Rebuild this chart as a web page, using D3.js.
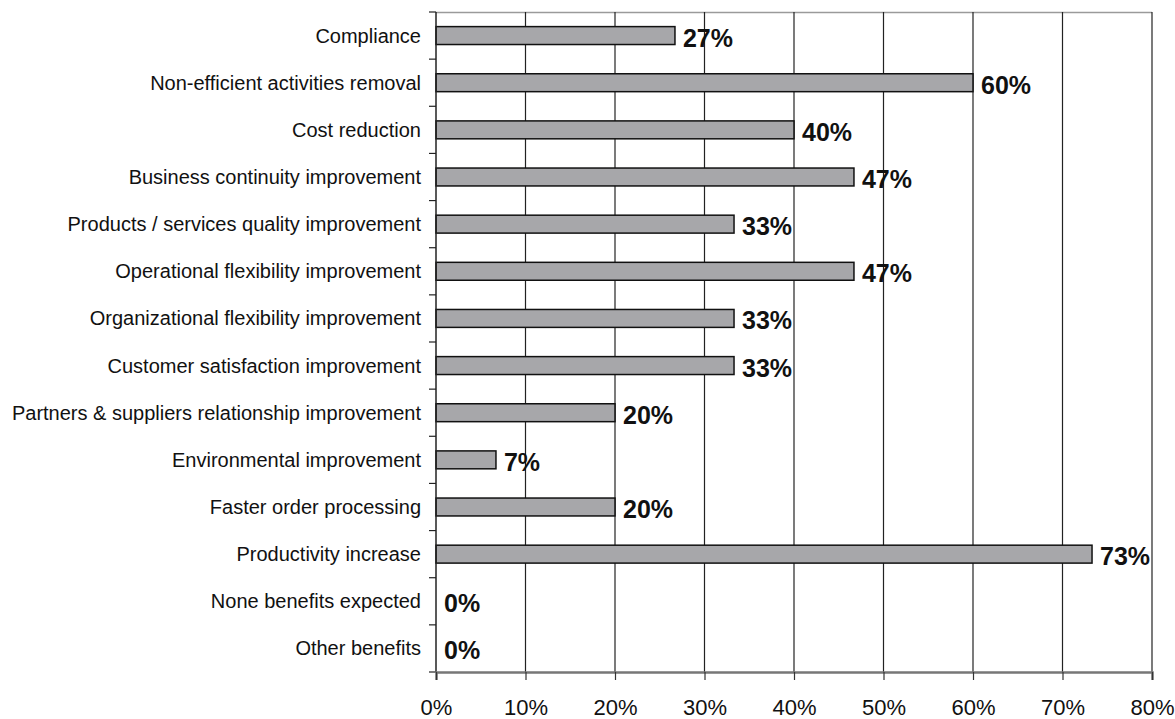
<!DOCTYPE html>
<html>
<head>
<meta charset="utf-8">
<script src="https://cdn.jsdelivr.net/npm/d3@7"></script>
<style>
    html, body { margin: 0; padding: 0; background: #fff; }
    svg { display: block; font-family: Arial, "Liberation Sans", sans-serif; }
</style>
</head>
<body>
<svg id="chart" width="1175" height="719"></svg>
<script>
// Categories, top to bottom
var Categories = [
    "Compliance",
    "Non-efficient activities removal",
    "Cost reduction",
    "Business continuity improvement",
    "Products / services quality improvement",
    "Operational flexibility improvement",
    "Organizational flexibility improvement",
    "Customer satisfaction improvement",
    "Partners & suppliers relationship improvement",
    "Environmental improvement",
    "Faster order processing",
    "Productivity increase",
    "None benefits expected",
    "Other benefits"
];
// Share of respondents (%)
var Values = [26.7, 60, 40, 46.7, 33.3, 46.7, 33.3, 33.3, 20, 6.7, 20, 73.3, 0, 0];
// X axis ticks (%)
var Ticks = [0, 10, 20, 30, 40, 50, 60, 70, 80];

var Margin = { Top: 12, Right: 23, Bottom: 47, Left: 436 };
var Width = 1175, Height = 719;
var SVG = d3.select("#chart");

// Scales
var X = d3.scaleLinear().domain([0, 80]).range([Margin.Left, Width - Margin.Right]);
var Y = d3.scaleBand().domain(Categories).range([Margin.Top, Height - Margin.Bottom]).paddingInner(0.62).paddingOuter(0.31);
var Band = d3.scaleBand().domain(Categories).range([Margin.Top, Height - Margin.Bottom]);

// Top border
SVG.append("line")
    .attr("x1", X(0)).attr("x2", X(80))
    .attr("y1", Margin.Top + 0.5).attr("y2", Margin.Top + 0.5)
    .attr("stroke", "#9a9a9a").attr("stroke-width", 1.5);

// Vertical gridlines
SVG.append("g").selectAll("line")
    .data(Ticks.slice(1))
    .join("line")
        .attr("x1", d => X(d)).attr("x2", d => X(d))
        .attr("y1", Margin.Top).attr("y2", Height - Margin.Bottom)
        .attr("stroke", "#222").attr("stroke-width", 1.2);

// Bars
SVG.append("g").selectAll("rect")
    .data(Categories.map((C, I) => ({ Name: C, Value: Values[I] })).filter(D => D.Value > 0))
    .join("rect")
        .attr("x", X(0))
        .attr("y", D => Y(D.Name))
        .attr("width", D => X(D.Value) - X(0))
        .attr("height", Y.bandwidth())
        .attr("fill", "#a7a7aa")
        .attr("stroke", "#111")
        .attr("stroke-width", 1.5);

// Value labels
SVG.append("g").selectAll("text")
    .data(Categories.map((C, I) => ({ Name: C, Value: Values[I] })))
    .join("text")
        .attr("x", D => X(D.Value) + 8)
        .attr("y", D => Y(D.Name) + Y.bandwidth() / 2 + 2)
        .attr("dy", "0.36em")
        .attr("font-size", 25)
        .attr("font-weight", "bold")
        .attr("fill", "#111")
        .text(D => Math.round(D.Value) + "%");

// Y axis (ticks at category boundaries)
var YAxis = SVG.append("g");
YAxis.append("line")
    .attr("x1", X(0)).attr("x2", X(0))
    .attr("y1", Margin.Top).attr("y2", Height - Margin.Bottom)
    .attr("stroke", "#222").attr("stroke-width", 1.5);
YAxis.selectAll("line.tick")
    .data(Categories.map(C => Band(C)).concat([Height - Margin.Bottom]))
    .join("line")
        .attr("class", "tick")
        .attr("x1", X(0) - 7).attr("x2", X(0))
        .attr("y1", D => D).attr("y2", D => D)
        .attr("stroke", "#222").attr("stroke-width", 1.2);
YAxis.selectAll("text")
    .data(Categories)
    .join("text")
        .attr("x", X(0) - 15)
        .attr("y", D => Band(D) + Band.bandwidth() / 2)
        .attr("dy", "0.35em")
        .attr("text-anchor", "end")
        .attr("font-size", 20)
        .attr("fill", "#111")
        .text(D => D);

// X axis
var XAxis = SVG.append("g").attr("transform", `translate(0,${Height - Margin.Bottom})`)
    .call(d3.axisBottom(X).tickValues(Ticks).tickSize(8).tickPadding(19).tickFormat(D => D + "%"));
XAxis.select(".domain").attr("stroke", "#777").attr("stroke-width", 2.5);
XAxis.selectAll(".tick line").attr("stroke", "#333").attr("stroke-width", 1.2);
XAxis.selectAll(".tick text")
    .attr("font-size", 22)
    .attr("font-family", "Arial, 'Liberation Sans', sans-serif")
    .attr("fill", "#111");
</script>
</body>
</html>
